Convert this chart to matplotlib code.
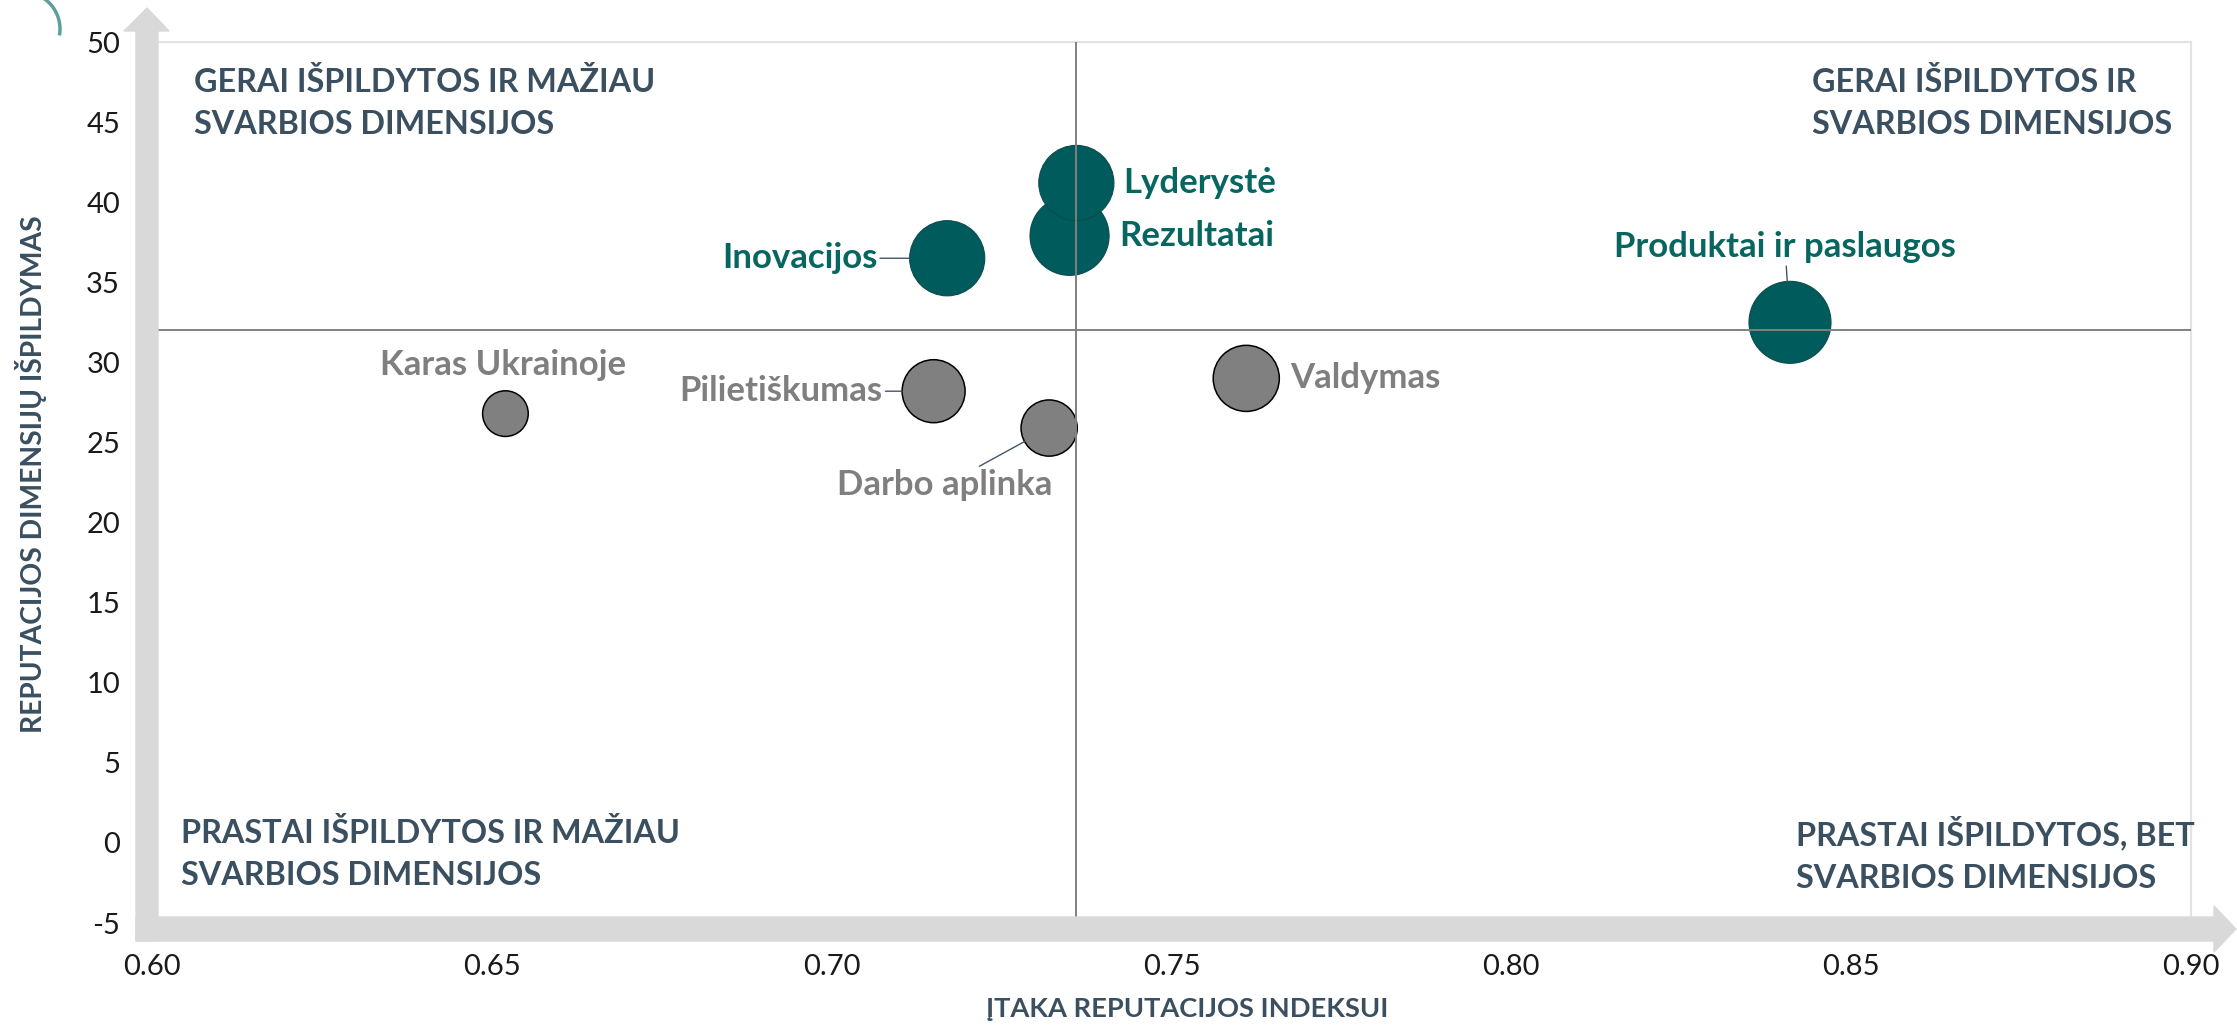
import numpy as np
import matplotlib.pyplot as plt
from matplotlib.patches import Polygon, Arc
from matplotlib.transforms import Affine2D

plt.rcParams['font.family'] = ['Lato', 'DejaVu Sans']
plt.rcParams['axes.unicode_minus'] = False

# data (drawing order: Rezultatai sits under Lyderystė)
dimensions = ["Rezultatai", "Lyderystė", "Inovacijos", "Produktai ir paslaugos",
              "Valdymas", "Pilietiškumas", "Darbo aplinka", "Karas Ukrainoje"]
impact = [0.735, 0.736, 0.717, 0.841, 0.761, 0.715, 0.732, 0.652]
performance = [37.9, 41.2, 36.5, 32.5, 29.0, 28.2, 25.9, 26.8]
bubble_size = [93, 84, 84, 100, 65, 59, 47, 31]
important = [True, True, True, True, False, False, False, False]

x_ticks = [0.60, 0.65, 0.70, 0.75, 0.80, 0.85, 0.90]
y_ticks = [-5, 0, 5, 10, 15, 20, 25, 30, 35, 40, 45, 50]
x_mid = 0.736
y_mid = 32.0

x_title = "ĮTAKA REPUTACIJOS INDEKSUI"
y_title = "REPUTACIJOS DIMENSIJŲ IŠPILDYMAS"
quadrant_text = ["GERAI IŠPILDYTOS IR MAŽIAU\nSVARBIOS DIMENSIJOS",
                 "GERAI IŠPILDYTOS IR\nSVARBIOS DIMENSIJOS",
                 "PRASTAI IŠPILDYTOS IR MAŽIAU\nSVARBIOS DIMENSIJOS",
                 "PRASTAI IŠPILDYTOS, BET\nSVARBIOS DIMENSIJOS"]

# layout (pixels)
quadrant_pos = [(194, 103), (1812, 103), (181, 854), (1796, 854)]
label_layout = {
    "Rezultatai": (50, 0, "left", False),
    "Lyderystė": (47, 0, "left", False),
    "Inovacijos": (-70, 0, "right", True),
    "Produktai ir paslaugos": (-5, 75, "center", True),
    "Valdymas": (44, 0, "left", False),
    "Pilietiškumas": (-51, 0, "right", True),
    "Darbo aplinka": (-104, -57, "center", True),
    "Karas Ukrainoje": (-2, 49, "center", False),
}

teal = "#005b5c"
teal_text = "#07665f"
gray = "#808080"
gray_text = "#7f7f7f"
slate = "#3a4f5f"
light = "#d9d9d9"

W, H = 2237, 1026
fig = plt.figure(figsize=(W / 100, H / 100), dpi=100)
px = Affine2D().scale(1 / W, -1 / H).translate(0, 1) + fig.transFigure
pt = 0.72  # points per pixel

ax = fig.add_axes([152 / W, (H - 923) / H, (2191 - 152) / W, (923 - 42) / H])
ax.set_xlim(0.60, 0.90)
ax.set_ylim(-5, 50)
ax.set_xticks(x_ticks)
ax.set_xticklabels([f"{t:.2f}" for t in x_ticks])
ax.set_yticks(y_ticks)
ax.tick_params(length=0, labelsize=21, colors="#1a1a1a")
ax.tick_params(axis="y", pad=23)
ax.tick_params(axis="x", pad=22)
for side in ["left", "bottom"]:
    ax.spines[side].set_visible(False)
for side in ["top", "right"]:
    ax.spines[side].set_color("#e3e3e3")
    ax.spines[side].set_linewidth(1.5)

ax.axvline(x_mid, color="#808080", lw=1.4, zorder=3)
ax.axhline(y_mid, color="#808080", lw=1.4, zorder=3)

s_scale = (82 * pt) ** 2 / 100
sizes = np.array(bubble_size) * s_scale
fills = [teal if imp else gray for imp in important]
edges = ["#0b4c4d" if imp else "black" for imp in important]
widths = [0.8 if imp else 1.1 for imp in important]
ax.scatter(impact, performance, s=sizes, c=fills, edgecolors=edges,
           linewidths=widths, zorder=2)

for name, x, y, s, imp in zip(dimensions, impact, performance, sizes, important):
    dx, dy, ha, leader = label_layout[name]
    arrow = None
    if leader:
        arrow = dict(arrowstyle="-", color="#44546a", lw=1.0,
                     shrinkA=0, shrinkB=np.sqrt(s) / 2)
    ax.annotate(name, xy=(x, y), xytext=(dx * pt, dy * pt),
                textcoords="offset points", ha=ha, va="center",
                fontsize=25, fontweight="bold",
                color=teal_text if imp else gray_text,
                arrowprops=arrow, zorder=4)

for text, (qx, qy) in zip(quadrant_text, quadrant_pos):
    fig.text(qx, qy, text, transform=px, ha="left", va="center",
             fontsize=23.3, fontweight="bold", color=slate, linespacing=1.58)

fig.text(1187, 1009, x_title, transform=px, ha="center", va="center",
         fontsize=19.6, fontweight="bold", color=slate)
fig.text(31, 474, y_title, transform=px, ha="center", va="center",
         rotation=90, fontsize=20.3, fontweight="bold", color=slate)

# grey axis arrows
fig.patches.append(Polygon([(136, 941), (136, 31), (124, 31), (147, 8), (169, 31),
                            (158, 31), (158, 941)], closed=True,
                           transform=px, color=light, zorder=1))
fig.patches.append(Polygon([(136, 917), (2214, 917), (2214, 906), (2236, 929),
                            (2214, 952), (2214, 941), (136, 941)], closed=True,
                           transform=px, color=light, zorder=1))

# teal corner arc
pix = Affine2D().scale(1 / W, 1 / H) + fig.transFigure
fig.patches.append(Arc((23, H - 29), 74, 74, theta1=-10, theta2=90,
                       transform=pix, color="#5e9f9b", lw=2.5))

fig.savefig("out.png", dpi=100)
